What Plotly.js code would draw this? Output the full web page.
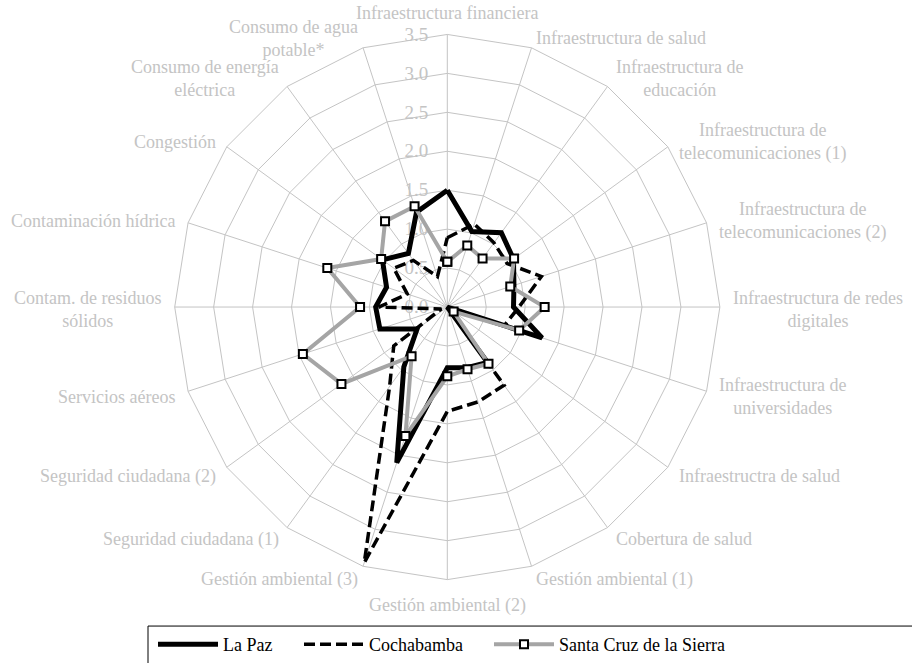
<!DOCTYPE html>
<html><head><meta charset="utf-8">
<script src="https://cdn.plot.ly/plotly-3.0.1.min.js"></script>
<style>html,body{margin:0;padding:0;background:#fff}</style>
</head><body>
<div id="chart" style="width:912px;height:663px"></div>
<script>
const categories = [
  'Infraestructura financiera',
  'Infraestructura de salud',
  'Infraestructura de<br>educación',
  'Infraestructura de<br>telecomunicaciones (1)',
  'Infraestructura de<br>telecomunicaciones (2)',
  'Infraestructura de redes<br>digitales',
  'Infraestructura de<br>universidades',
  'Infraestructra de salud',
  'Cobertura de salud',
  'Gestión ambiental (1)',
  'Gestión ambiental (2)',
  'Gestión ambiental (3)',
  'Seguridad ciudadana (1)',
  'Seguridad ciudadana (2)',
  'Servicios aéreos',
  'Contam. de residuos<br>sólidos',
  'Contaminación hídrica',
  'Congestión',
  'Consumo de energía<br>eléctrica',
  'Consumo de agua<br>potable*'
];
const laPaz      = [1.50, 1.02, 1.18, 1.05, 0.90, 0.85, 1.28, 0.00, 0.88, 0.82, 0.78, 2.10, 0.95, 0.48, 0.91, 0.92, 0.82, 1.03, 0.85, 1.28];
const cochabamba = [0.89, 1.12, 1.02, 0.95, 1.27, 0.92, 0.77, 0.00, 1.24, 1.28, 1.34, 3.45, 1.26, 0.85, 0.08, 0.88, 0.54, 0.85, 0.74, 0.41];
const santaCruz  = [0.58, 0.83, 0.77, 1.06, 0.85, 1.25, 0.97, 0.10, 0.90, 0.84, 0.89, 1.74, 0.78, 1.68, 1.95, 1.12, 1.62, 1.05, 1.36, 1.36];
const seriesNames = ['La Paz', 'Cochabamba', 'Santa Cruz de la Sierra'];
const radialTickVals = [0, 0.5, 1, 1.5, 2, 2.5, 3, 3.5];
const radialTickText = ['0.0', '0.5', '1.0', '1.5', '2.0', '2.5', '3.0', '3.5'];

function closed(a) { return a.concat([a[0]]); }
const thetaClosed = closed(categories);

const FONT = '"Liberation Serif", "Times New Roman", serif';
const GRID = '#c4c4c4';
const LABEL = '#c4c4c4';

const traces = [
  { type: 'scatterpolar', mode: 'lines', name: seriesNames[0], r: closed(laPaz), theta: thetaClosed,
    line: { color: '#000000', width: 5 }, legend: 'legend' },
  { type: 'scatterpolar', mode: 'lines', name: seriesNames[1], r: closed(cochabamba), theta: thetaClosed,
    line: { color: '#000000', width: 3.5, dash: '11px,5px' }, legend: 'legend2' },
  { type: 'scatterpolar', mode: 'lines+markers', name: seriesNames[2], r: closed(santaCruz), theta: thetaClosed,
    line: { color: '#a5a5a5', width: 4 },
    marker: { symbol: 'square', size: 8, color: '#ffffff', line: { color: '#000000', width: 2 } },
    legend: 'legend3' }
];

const W = 912, H = 663;
const cx = 447.3, cy = 307.5, R = 273;

// category labels placed just outside each polygon vertex (computed from the same polar geometry)
const annotations = categories.map(function (c, i) {
  const a = i * 2 * Math.PI / categories.length;
  const s = Math.sin(a), co = Math.cos(a);
  const px = cx + (R + 12) * s, py = cy - (R + 12) * co + 2;
  let xa = 'center', ya = 'middle';
  if (s > 0.01) xa = 'left'; else if (s < -0.01) xa = 'right';
  if (Math.abs(s) <= 0.01) ya = co > 0 ? 'bottom' : 'top';
  return { text: c, xref: 'paper', yref: 'paper', x: px / W, y: 1 - py / H,
    xanchor: xa, yanchor: ya, align: 'center', showarrow: false, borderpad: 0,
    font: { family: FONT, size: 18, color: LABEL } };
});

const legendCommon = { orientation: 'h', xanchor: 'left', yanchor: 'middle', y: 1 - 645 / H,
  bgcolor: 'rgba(0,0,0,0)', borderwidth: 0, itemwidth: 60,
  font: { family: FONT, size: 18, color: '#000000' } };

const layout = {
  width: W, height: H,
  margin: { l: 0, r: 0, t: 0, b: 0, pad: 0 },
  paper_bgcolor: '#ffffff',
  font: { family: FONT, size: 18, color: '#000000' },
  showlegend: true,
  polar: {
    domain: { x: [(cx - R) / W, (cx + R) / W], y: [1 - (cy + R) / H, 1 - (cy - R) / H] },
    gridshape: 'linear',
    bgcolor: '#ffffff',
    angularaxis: {
      type: 'category', categoryorder: 'array', categoryarray: categories,
      direction: 'clockwise', rotation: 90,
      showline: true, linecolor: GRID, linewidth: 1,
      showgrid: true, gridcolor: GRID, gridwidth: 1,
      ticks: '', showticklabels: false, layer: 'below traces'
    },
    radialaxis: {
      range: [0, 3.5], tickvals: radialTickVals, ticktext: radialTickText,
      angle: 90, side: 'counterclockwise', tickangle: 90,
      showline: false, showgrid: true, gridcolor: GRID, gridwidth: 1,
      ticks: 'outside', ticklen: 12, tickcolor: 'rgba(0,0,0,0)',
      layer: 'below traces',
      tickfont: { family: FONT, size: 19, color: LABEL }
    }
  },
  annotations: annotations,
  legend: Object.assign({}, legendCommon, { x: 153 / W }),
  legend2: Object.assign({}, legendCommon, { x: 299 / W }),
  legend3: Object.assign({}, legendCommon, { x: 489 / W }),
  shapes: [{ type: 'rect', xref: 'paper', yref: 'paper', layer: 'below',
    x0: 148 / W, x1: 1.05, y0: -0.05, y1: 1 - 627 / H,
    line: { color: '#000000', width: 1 }, fillcolor: 'rgba(0,0,0,0)' }]
};

Plotly.newPlot('chart', traces, layout, { displayModeBar: false, staticPlot: true });
</script>
</body></html>
